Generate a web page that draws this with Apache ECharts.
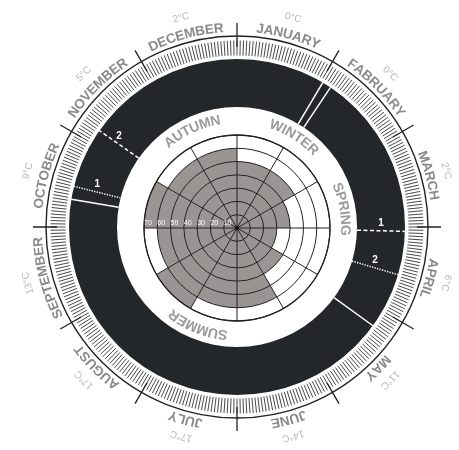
<!DOCTYPE html>
<html><head><meta charset="utf-8">
<script src="https://cdn.jsdelivr.net/npm/echarts@6/dist/echarts.min.js"></script>
<style>html,body{margin:0;padding:0;background:#fff}#c{width:459px;height:450px}</style>
</head><body><div id="c"></div>
<script>
// ---- data ----
const MONTHS = ['JANUARY','FABRUARY','MARCH','APRIL','MAY','JUNE','JULY','AUGUST','SEPTEMBER','OCTOBER','NOVEMBER','DECEMBER'];
const TEMPS = ['0°C','0°C','2°C','6°C','11°C','14°C','17°C','17°C','13°C','9°C','5°C','2°C'];
const MONTH_VALUES = [50,50,40,30,40,60,60,70,60,70,60,60];
const RADIUS_MAX = 70;
const RADIUS_STEP = 10;
const SEASONS = ['WINTER','SPRING','SUMMER','AUTUMN'];
const SEASON_AT = [1.08, 2.68, 6.72, 11.17];          // position in months (0 = 1 Jan)
const LINE_AT   = [1.023, 1.127, 4.20, 9.317, 3.05, 3.55, 9.467, 10.167];
const LINE_KIND = ['solid','solid','solid','solid','dashed','dotted','dotted','dashed'];
const LINE_TAG  = ['','','','','1','2','1','2'];

// ---- layout ----
const CX = 237, CY = 227, ICY = 228;
const FAMILY = '"Liberation Sans", Arial, sans-serif';
const measure = document.createElement('canvas').getContext('2d');

function arcText(text, mCenter, r, api, size, weight, fill) {
  measure.font = weight + ' ' + size + 'px ' + FAMILY;
  const chars = Array.from(text);
  const widths = chars.map(ch => measure.measureText(ch).width);
  const total = widths.reduce((a, b) => a + b, 0);
  let s = -total / 2;
  const children = [];
  chars.forEach((ch, j) => {
    const sc = s + widths[j] / 2; s += widths[j];
    const m = mCenter + (sc / r) / (Math.PI / 6);
    const p = api.coord([r, m]);
    children.push({type: 'text', x: p[0], y: p[1], rotation: -m * Math.PI / 6,
      style: {text: ch, fontSize: size, fontWeight: weight, fontFamily: FAMILY, fill: fill,
              align: 'center', verticalAlign: 'middle'}});
  });
  return {type: 'group', children};
}

const hiddenAngle = (idx, extra) => Object.assign({polarIndex: idx, type: 'value', min: 0, max: 12,
  startAngle: 90, clockwise: true, axisLine: {show: false}, axisTick: {show: false},
  axisLabel: {show: false}, splitLine: {show: false}}, extra || {});
const hiddenRadius = (idx, max) => ({polarIndex: idx, type: 'value', min: 0, max: max, show: false,
  axisLine: {show: false}, axisTick: {show: false}, axisLabel: {show: false}, splitLine: {show: false}});

const chart = echarts.init(document.getElementById('c'), null, {renderer: 'canvas'});
const option = {
  animation: false,
  backgroundColor: '#fff',
  polar: [
    {center: [CX, CY], radius: 220},   // 0 helper (radius in px, angle in months)
    {center: [CX, CY], radius: 186.5}, // 1 day ticks
    {center: [CX, CY], radius: 191},   // 2 circle
    {center: [CX, CY], radius: 204},   // 3 month ticks
    {center: [CX, ICY], radius: 93},   // 4 bars
    {center: [CX, ICY], radius: 93}    // 5 radius labels
  ],
  angleAxis: [
    hiddenAngle(0),
    hiddenAngle(1, {interval: 1, axisTick: {show: true, inside: true, length: 15, lineStyle: {color: '#333', width: 0.9}},
      minorTick: {show: true, splitNumber: 30, length: 15, lineStyle: {color: '#333', width: 0.9}}}),
    hiddenAngle(2, {axisLine: {show: true, lineStyle: {color: '#222', width: 1.4}}}),
    hiddenAngle(3, {interval: 1, axisTick: {show: true, inside: true, length: 24, lineStyle: {color: '#222', width: 1.3}}}),
    {polarIndex: 4, type: 'category', data: MONTHS, startAngle: 90, clockwise: true, boundaryGap: true, z: 3,
      axisLine: {show: true, lineStyle: {color: '#222', width: 1.3}}, axisTick: {show: false},
      axisLabel: {show: false}, splitLine: {show: true, lineStyle: {color: '#222', width: 1}}},
    {polarIndex: 5, type: 'value', min: 0, max: 360, startAngle: 180, show: false,
      axisLine: {show: false}, axisTick: {show: false}, axisLabel: {show: false}, splitLine: {show: false}}
  ],
  radiusAxis: [
    hiddenRadius(0, 220), hiddenRadius(1, 10), hiddenRadius(2, 10), hiddenRadius(3, 10),
    {polarIndex: 4, type: 'value', min: 0, max: RADIUS_MAX, interval: RADIUS_STEP, z: 3,
      axisLine: {show: false}, axisTick: {show: false}, axisLabel: {show: false},
      splitLine: {show: true, lineStyle: {color: '#222', width: 1}}},
    {polarIndex: 5, type: 'value', min: 0, max: RADIUS_MAX, interval: RADIUS_STEP, z: 6,
      axisLine: {show: false}, axisTick: {show: false}, splitLine: {show: false},
      axisLabel: {show: true, formatter: v => (v === 0 ? '' : String(v)), color: '#fff', fontSize: 7,
        fontFamily: FAMILY, align: 'left', verticalAlign: 'bottom', margin: -1}}
  ],
  series: [
    {type: 'pie', center: [CX, CY], radius: [120, 168], silent: true, z: 1,
      label: {show: false}, labelLine: {show: false}, emphasis: {disabled: true},
      data: [{value: 1, itemStyle: {color: '#24272a'}}]},
    {type: 'bar', coordinateSystem: 'polar', polarIndex: 4, data: MONTH_VALUES, barCategoryGap: '0%',
      itemStyle: {color: '#9a9592'}, silent: true, z: 2},
    {type: 'scatter', coordinateSystem: 'polar', polarIndex: 4, data: [[0, 0]], symbolSize: 4,
      itemStyle: {color: '#111'}, silent: true, z: 5},
    {type: 'custom', coordinateSystem: 'polar', polarIndex: 0, silent: true, z: 4,
      data: LINE_AT.map(m => [144, m]),
      renderItem: (params, api) => {
        const m = api.value(1), kind = LINE_KIND[params.dataIndex];
        const a = api.coord([120, m]), b = api.coord([168, m]);
        const dash = kind === 'dashed' ? [4, 2.5] : kind === 'dotted' ? [1.3, 1.3] : null;
        const children = [{type: 'line', shape: {x1: a[0], y1: a[1], x2: b[0], y2: b[1]},
          style: {stroke: '#fff', lineWidth: 1.5, lineDash: dash}}];
        const tag = LINE_TAG[params.dataIndex];
        if (tag) {
          const p = api.coord([144, m]);
          children.push({type: 'text', x: p[0], y: p[1] - 8,
            style: {text: tag, fill: '#fff', fontSize: 10, fontWeight: 'bold', fontFamily: FAMILY,
                    align: 'center', verticalAlign: 'middle'}});
        }
        return {type: 'group', children};
      }},
    {type: 'custom', coordinateSystem: 'polar', polarIndex: 0, silent: true, z: 4,
      data: MONTHS.map((_, i) => [199, i + 0.5]),
      renderItem: (params, api) => arcText(MONTHS[params.dataIndex], api.value(1), api.value(0), api, 13.5, 'bold', '#8a8a8a')},
    {type: 'custom', coordinateSystem: 'polar', polarIndex: 0, silent: true, z: 4,
      data: TEMPS.map((_, i) => [216.5, i + 0.5]),
      renderItem: (params, api) => arcText(TEMPS[params.dataIndex], api.value(1), api.value(0), api, 10, 'normal', '#b8b8b8')},
    {type: 'custom', coordinateSystem: 'polar', polarIndex: 0, silent: true, z: 4,
      data: SEASON_AT.map(m => [108, m]),
      renderItem: (params, api) => arcText(SEASONS[params.dataIndex], api.value(1), api.value(0), api, 14, 'bold', '#9a9a9a')}
  ]
};
chart.setOption(option);
</script></body></html>
